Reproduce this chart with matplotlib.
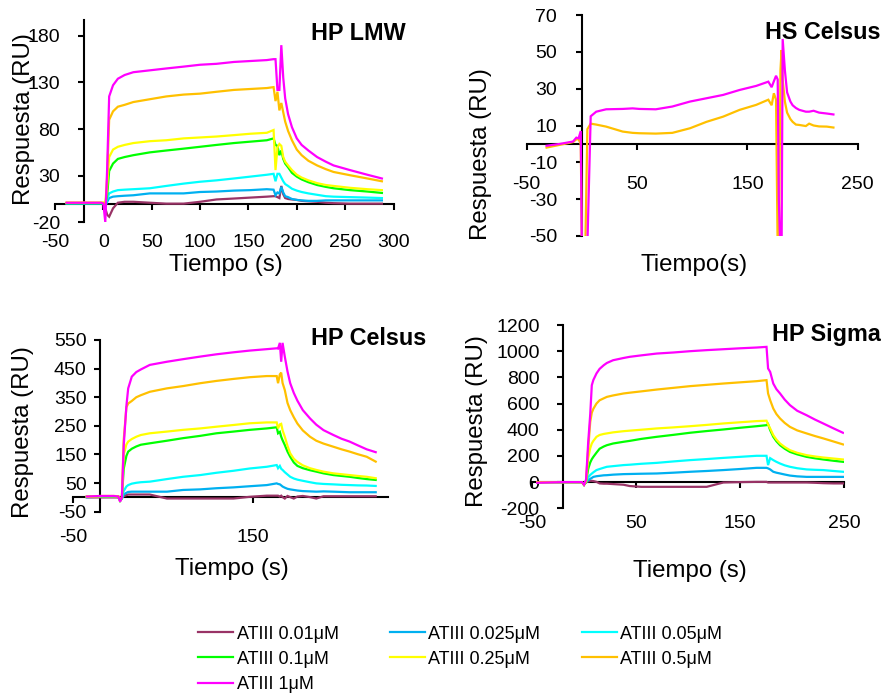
import matplotlib
matplotlib.use("Agg")
import matplotlib.pyplot as plt

plt.rcParams['font.family'] = ['Liberation Sans', 'DejaVu Sans']
plt.rcParams['axes.unicode_minus'] = False

# ---- series labels and colours (lowest to highest ATIII concentration) ----
conc_labels = ["ATIII 0.01μM", "ATIII 0.025μM", "ATIII 0.05μM", "ATIII 0.1μM",
               "ATIII 0.25μM", "ATIII 0.5μM", "ATIII 1μM"]
conc_colors = ["#993366", "#00B0F0", "#00FFFF", "#00FF00", "#FFFF00", "#FFC000", "#FF00FF"]

# ---- HP LMW sensorgrams (time in s, response in RU) ----
lmw_time = [-38, -20, -2, 0, 2, 4, 6, 10, 15, 22, 31, 48, 65, 83, 100, 117, 135, 152, 169,
            176, 178, 180, 182, 184, 186, 188, 191, 195, 200, 205, 212, 221, 230, 238, 255, 273, 288]
lmw_001 = [0, 0, 0, 0, -5, -12, -14, -5, 1, 2, 2, 1, 0, 0, 2, 4.5, 5.5, 6.5, 7.5,
           8, 8, 7, 6, 19, 10, 6, 5, 4.5, 4, 3, 2.5, 2, 1, 0.5, 0, 0, 0]
lmw_0025 = [0, 0, 0, 0, -3, 2, 6, 7.5, 8, 8.5, 9, 11, 11, 11, 12.5, 13, 14, 14.5, 15.5,
            15, 9, 12, 11, 18, 12, 8, 7, 5, 4, 3.5, 3, 3, 3.5, 3.5, 3.5, 3.5, 3.5]
lmw_005 = [0.5, 0.5, 0.5, 0, -2, 5, 11, 13, 14.5, 15, 15.5, 16.5, 19, 21.5, 23.5, 25, 27, 29, 31,
           32, 24, 32, 32, 28, 24, 21, 19, 16, 14, 12.5, 11, 9.5, 8, 7.5, 7, 6.5, 6]
lmw_01 = [0.5, 0.5, 0.5, 0.5, -2, 10, 35, 43, 48, 50, 52, 55, 57, 59, 61, 63, 65, 66.5, 68,
          70, 63, 62, 52, 57, 48, 43, 39, 33, 29, 26, 23, 20, 18, 16.5, 14.5, 13, 11.5]
lmw_025 = [1, 1, 1, 1, -2, 20, 50, 58, 61, 63, 65, 67, 68, 70, 71, 72, 73.5, 75, 76,
           79, 36, 60, 64, 62, 50, 45, 41, 36, 31, 28, 25, 22, 20, 19, 17, 15.5, 14.5]
lmw_05 = [1, 1, 1, 1, -3, 30, 90, 99, 104, 106, 109, 112, 115, 117, 118, 120, 122, 123, 124,
          125, 110, 120, 100, 108, 98, 88, 78, 68, 58, 52, 46, 41, 37, 34, 30.5, 27, 24]
lmw_1 = [1, 1, 1, 0, -20, 40, 115, 127, 134, 138, 141, 143, 145, 147, 149, 150, 152, 153, 154,
         155, 155, 122, 122, 170, 135, 113, 96, 82, 70, 63, 57, 50, 45, 41, 36, 31, 27]

# ---- HS Celsus sensorgrams ----
hsc_time = [-32, -20, -8, -5, -3, -1, 0, 3, 5, 8, 13, 22, 37, 46, 52, 67, 82, 98, 113, 128,
            143, 158, 169, 172, 174, 176, 177.5, 178.5, 180, 181, 182, 184, 186, 189, 191,
            194, 197, 203, 206, 210, 215, 222, 228]
hsc_05 = [-2, -0.5, 1, 2.5, 2.5, 0, -55, -60, 8, 11, 10.5, 9.4, 6.7, 6, 5.8, 5.6, 6, 8.5, 12, 14.8,
          18.5, 21.2, 24, 21, 27.5, 24, -60, -60, 40, 51, 35, 23, 17, 13.5, 12,
          10.5, 10.3, 9.7, 11, 10, 9.5, 9.4, 8.9]
hsc_1 = [-1, 0, 1.3, 3.4, 3, 7, -60, -60, -55, 15, 17.5, 18.8, 19, 19.3, 19, 18.8, 20.3, 23, 24.8, 26.6,
         29.3, 31.5, 33.8, 30.8, 34, 37, 35, -30, -60, -60, 57, 40, 28, 23, 21,
         19.5, 18.5, 17.5, 17.5, 18, 17, 16.5, 16]

# ---- HP Celsus sensorgrams ----
hpc_time = [-35, -20, -5, 0, 2, 4, 6, 9, 11, 15, 20, 25, 35, 54, 72, 91, 109, 128, 146, 165,
            176, 177.5, 179.5, 181, 182.5, 185, 188, 191, 195, 199, 205, 213, 220, 228, 239,
            248, 257, 266, 276, 286]
hpc_001 = [0, 0, 0, 0, -5, 0, 4, 8, 10, 10, 10, 10, 10, -4, -4, -4, -4, -4, 2, 6,
           6, 6, 3, 6, 1, -4, 5, 1, -4, 3, 5, 1, -4, 4, 4, 4, 4, 4, 4, 4]
hpc_0025 = [1, 2, 2, 1, -8, -4, 10, 16, 19, 20, 20, 20, 20, 20, 26, 28, 32, 35, 39, 43,
            49, 47, 45.6, 42, 38, 34, 30, 28, 26, 24, 22, 21, 20, 21, 20, 19, 18, 18, 18, 18]
hpc_005 = [1, 3, 3, 2, -10, -5, 22, 38, 43, 48, 51, 53, 55, 64, 72, 78, 86, 93, 101, 107,
           113, 102, 110, 100, 96, 88, 80, 72, 66, 62, 58, 53, 49, 47, 45.5, 44, 43, 42, 41.5, 40]
hpc_01 = [2, 4, 4, 3, -12, -2, 100, 145, 160, 170, 178, 184, 189, 198, 207, 215, 224, 230, 236, 241,
          245, 224, 229, 212, 200, 183, 160, 142, 122, 110, 102, 95, 90, 84, 78, 75, 72, 68, 64, 61]
hpc_025 = [2, 5, 5, 4, -10, 0, 150, 185, 195, 204, 212, 218, 224, 230, 236, 241, 247, 253, 259, 262,
           262, 241, 255, 257, 235, 212, 180, 154, 135, 124, 112, 102, 96, 90, 84, 81, 78, 75, 72, 67]
hpc_05 = [3, 4, 4, 3, -12, 0, 200, 315, 328, 337, 350, 357, 369, 381, 389, 399, 407, 414, 420, 424,
          424, 399, 430, 436, 400, 375, 330, 305, 280, 258, 234, 212, 198, 188, 177, 168, 160, 151, 142, 125]
hpc_1 = [3, 5, 5, 3, -15, 0, 180, 320, 381, 422, 438, 447, 463, 474, 483, 492, 500, 507, 513, 518,
         521, 520, 540, 474, 540, 492, 440, 399, 365, 338, 305, 276, 254, 235, 218, 205, 195, 182, 168, 158]

# ---- HP Sigma sensorgrams ----
sig_time = [-45, -20, -2, 0, 2, 4, 6, 7.5, 9, 12, 15, 19, 22, 28, 38, 44, 55, 70, 86, 102,
            118, 134, 150, 166, 175.5, 177, 179, 182, 185, 188.5, 193, 198, 205, 214, 222, 230, 240, 249]
sig_001 = [0, 0, 0, -20, 0, 5, 10, 10, 8, 2, -10, -12, -12, -15, -20, -30, -36, -36, -36, -36,
           -36, -3, 0, 2, 2, -3, -3, -3, -3, -3, -3, -3, -3, -3, -5, -8, -10, -10]
sig_0025 = [0, 0, 0, -20, 0, 15, 25, 32, 40, 45, 48, 52, 53, 57, 61, 62, 64, 66, 72, 79,
            85, 92, 100, 109, 109, 105, 97, 79, 72, 66, 58, 50, 44, 40, 40, 40, 40, 40]
sig_005 = [0, 0, 0, -20, 0, 35, 55, 65, 75, 92, 100, 110, 117, 122, 130, 133, 140, 147, 158, 168,
           176, 185, 193, 201, 201, 130, 183, 168, 155, 142, 128, 117, 106, 97, 94, 92, 85, 79]
sig_01 = [0, 0, 0, -20, 0, 100, 150, 175, 193, 225, 255, 272, 282, 295, 308, 315, 330, 346, 361, 377,
          390, 402, 415, 427, 435, 443, 397, 346, 312, 282, 255, 231, 212, 193, 182, 173, 163, 155]
sig_025 = [0, 0, 0, -20, 5, 180, 260, 295, 315, 346, 360, 368, 372, 380, 389, 393, 400, 410, 418, 427,
           437, 448, 457, 466, 469, 440, 410, 359, 325, 295, 268, 244, 224, 206, 196, 188, 180, 173]
sig_05 = [0, 0, 0, -20, 10, 250, 460, 530, 560, 600, 625, 640, 651, 662, 677, 683, 693, 707, 720, 733,
          743, 753, 762, 771, 779, 677, 626, 562, 520, 486, 452, 422, 395, 372, 352, 334, 310, 288]
sig_1 = [-5, 0, 0, -20, 20, 300, 520, 740, 780, 830, 865, 893, 910, 931, 948, 957, 968, 982, 990, 1000,
         1008, 1015, 1022, 1028, 1033, 868, 842, 753, 710, 677, 630, 588, 545, 511, 478, 448, 410, 377]

# ---- axis ticks ----
lmw_xticks = [-50, 0, 50, 100, 150, 200, 250, 300]
lmw_yticks = [-20, 30, 80, 130, 180]
hsc_xticks = [-50, 50, 150, 250]
hsc_yticks = [-50, -30, -10, 10, 30, 50, 70]
hpc_xticks = [-50, 150]
hpc_yticks = [-50, 50, 150, 250, 350, 450, 550]
sig_xticks = [-50, 50, 150, 250]
sig_yticks = [-200, 0, 200, 400, 600, 800, 1000, 1200]

W, H = 883, 695
fig = plt.figure(figsize=(W / 100, H / 100), dpi=100)


def fig_xy(x, y):
    return x / W, 1 - y / H


def make_axes(x0, x1, y_top, y_bot, xlim, ylim, xticks, yticks, yaxis_at, xpad, ypad):
    ax = fig.add_axes([x0 / W, 1 - y_bot / H, (x1 - x0) / W, (y_bot - y_top) / H])
    ax.set_xlim(*xlim)
    ax.set_ylim(*ylim)
    ax.patch.set_visible(False)
    for side in ("top", "right"):
        ax.spines[side].set_visible(False)
    ax.spines["left"].set_position(("data", yaxis_at))
    ax.spines["bottom"].set_position(("data", 0))
    for side in ("left", "bottom"):
        ax.spines[side].set_linewidth(1.5)
    ax.set_xticks(xticks)
    ax.set_yticks(yticks)
    ax.tick_params(axis="both", direction="out", length=4.3, width=1.5, labelsize=14, colors="black")
    ax.tick_params(axis="x", pad=xpad)
    ax.tick_params(axis="y", pad=ypad)
    return ax


def draw_series(ax, t, series):
    lines = []
    for idx, vals in series:
        ln, = ax.plot(t, vals, color=conc_colors[idx], lw=1.6, label=conc_labels[idx],
                      zorder=3, solid_joinstyle="miter")
        lines.append(ln)
    return lines


def title(x, y, s):
    fig.text(*fig_xy(x, y), s, ha="center", va="baseline", fontsize=16.8, fontweight="bold")


def xlabel(x, y, s):
    fig.text(*fig_xy(x, y), s, ha="center", va="baseline", fontsize=17.3)


def ylabel(x, y, s):
    fig.text(*fig_xy(x, y), s, ha="center", va="center", rotation=90, fontsize=17.3)


# HP LMW
ax1 = make_axes(55, 393.5, 20, 222.3, (-50, 300), (-20, 197), lmw_xticks, lmw_yticks, -20, 17.8, 13)
legend_lines = draw_series(ax1, lmw_time, list(enumerate(
    [lmw_001, lmw_0025, lmw_005, lmw_01, lmw_025, lmw_05, lmw_1])))
title(358, 40, "HP LMW")
xlabel(226, 271.5, "Tiempo (s)")
ylabel(24, 119, "Respuesta (RU)")

# HS Celsus
ax2 = make_axes(526.7, 857.7, 15, 236, (-50, 250), (-50, 70), hsc_xticks, hsc_yticks, 0, 18.5, 13.5)
draw_series(ax2, hsc_time, [(5, hsc_05), (6, hsc_1)])
title(822.5, 39, "HS Celsus")
xlabel(694, 271, "Tiempo(s)")
ylabel(481, 154, "Respuesta (RU)")

# HP Celsus
ax3 = make_axes(73.3, 388.3, 340, 511.7, (-50, 300), (-50, 550), hpc_xticks, hpc_yticks, -20, 18.6, 5.5)
draw_series(ax3, hpc_time, list(enumerate(
    [hpc_001, hpc_0025, hpc_005, hpc_01, hpc_025, hpc_05, hpc_1])))
title(368.3, 345, "HP Celsus")
xlabel(231.7, 575, "Tiempo (s)")
ylabel(23.5, 432, "Respuesta (RU)")

# HP Sigma
ax4 = make_axes(532, 844, 325, 508.3, (-50, 250), (-200, 1200), sig_xticks, sig_yticks, -20, 19.4, 12.7)
draw_series(ax4, sig_time, list(enumerate(
    [sig_001, sig_0025, sig_005, sig_01, sig_025, sig_05, sig_1])))
title(826, 341, "HP Sigma")
xlabel(690, 576.7, "Tiempo (s)")
ylabel(477.5, 421.5, "Respuesta (RU)")

# Legend laid out row by row in three columns
legend_columns = [([0, 3, 6], 198.3), ([1, 4], 390), ([2, 5], 581.7)]
for members, x_left in legend_columns:
    fig.legend([legend_lines[i] for i in members], [conc_labels[i] for i in members],
               loc="upper left", bbox_to_anchor=fig_xy(x_left, 625.6),
               frameon=False, fontsize=13, handlelength=1.94, handletextpad=0.19,
               labelspacing=0.45, borderpad=0, borderaxespad=0)

fig.savefig("out.png", dpi=100)
